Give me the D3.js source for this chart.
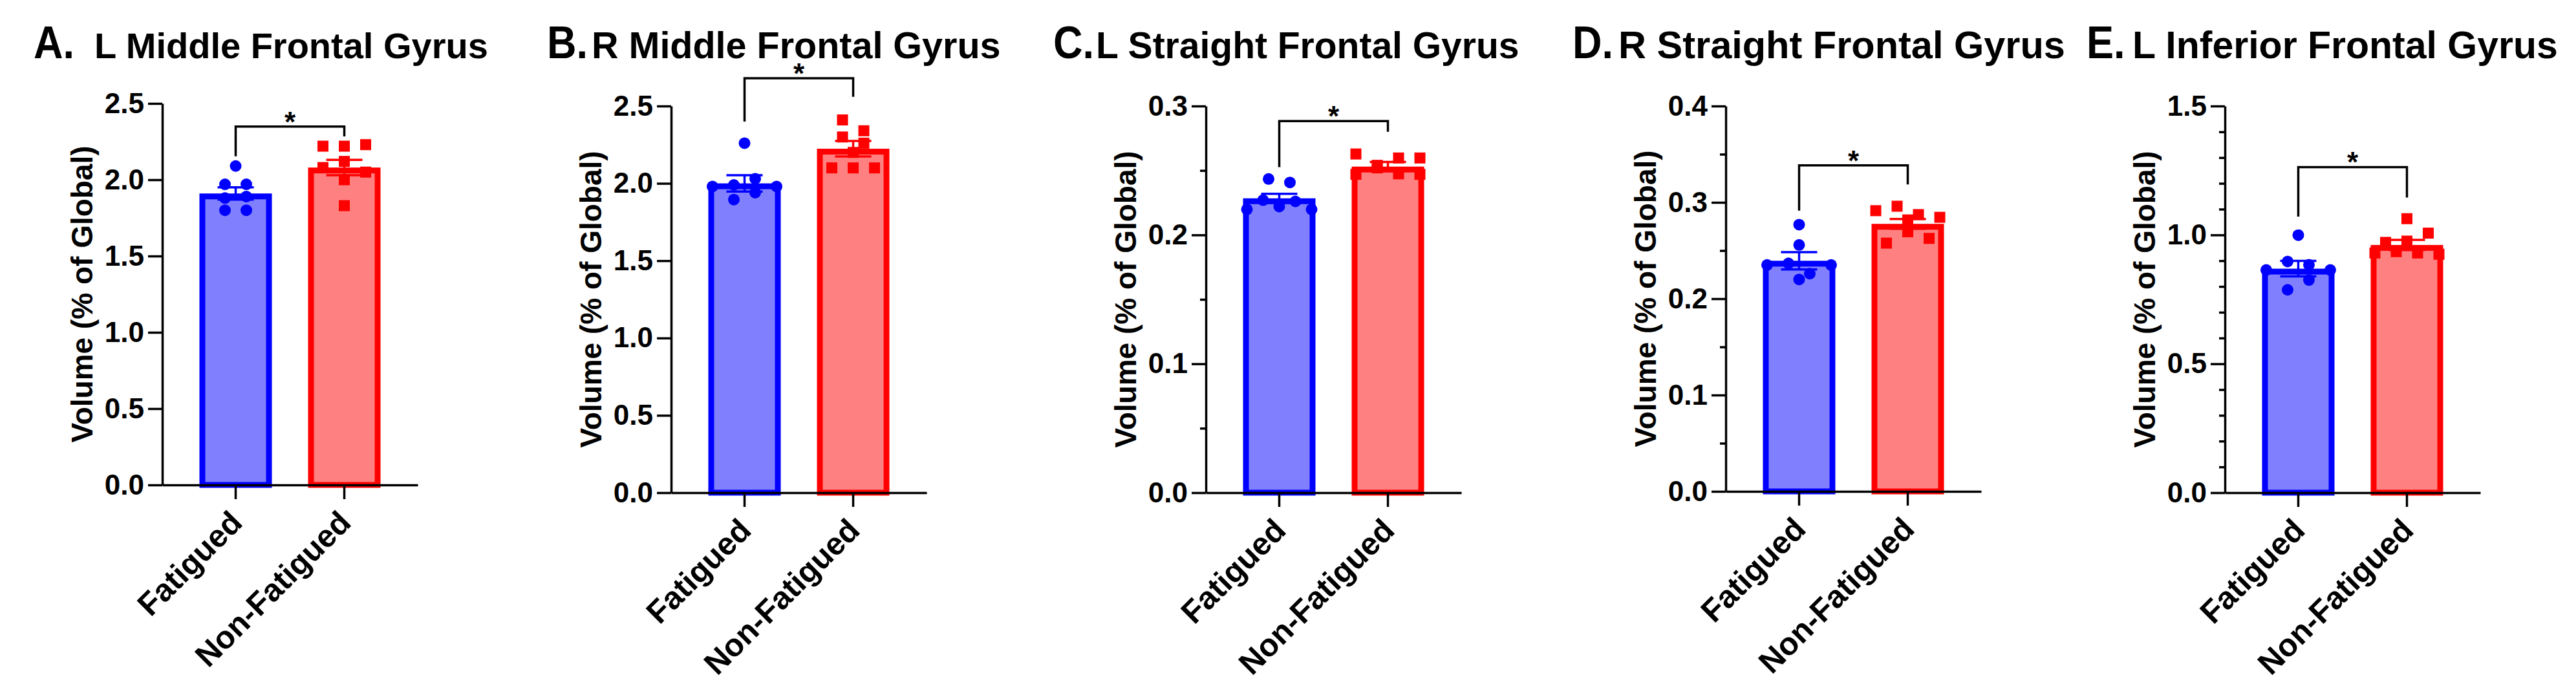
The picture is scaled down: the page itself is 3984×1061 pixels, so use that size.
<!DOCTYPE html>
<html>
<head>
<meta charset="utf-8">
<script src="https://cdn.jsdelivr.net/npm/d3@7"></script>
<style>
  body { margin: 0; background: #fff; }
  svg text { font-family: "Liberation Sans", Arial, sans-serif; font-weight: bold; fill: #000; }
</style>
</head>
<body>
<svg id="fig" width="3984" height="1061"></svg>
<script>
// ---- data ----
var groups = ["Fatigued", "Non-Fatigued"];
var letters = ["A.", "B.", "C.", "D.", "E."];
var regions = ["L Middle Frontal Gyrus", "R Middle Frontal Gyrus", "L Straight Frontal Gyrus",
               "R Straight Frontal Gyrus", "L Inferior Frontal Gyrus"];
var yLabel = "Volume (% of Global)";

var yMax = [2.5, 2.5, 0.3, 0.4, 1.5];
var yMajor = [0.5, 0.5, 0.1, 0.1, 0.5];
var yMinorCount = [1, 1, 2, 2, 5];   // sub-divisions per major step

var meanFatigued = [1.91, 2.00, 0.2284, 0.2394, 0.869];
var semFatigued = [0.04, 0.053, 0.0035, 0.009, 0.03];
var meanNonFatigued = [2.08, 2.224, 0.253, 0.2777, 0.961];
var semNonFatigued = [0.05, 0.05, 0.0036, 0.005, 0.02];

var fatA = [2.09, 1.97, 1.97, 1.88, 1.89, 1.80, 1.80];
var nonA = [2.22, 2.22, 2.23, 2.08, 2.12, 2.05, 2.00, 1.83];
var fatB = [2.26, 1.98, 1.99, 2.03, 1.98, 1.895, 1.94];
var nonB = [2.41, 2.34, 2.30, 2.26, 2.20, 2.10, 2.10, 2.10];
var fatC = [0.2434, 0.2407, 0.2198, 0.227, 0.222, 0.226, 0.2198];
var nonC = [0.2628, 0.254, 0.2597, 0.2597, 0.247, 0.252, 0.2474, 0.247];
var fatD = [0.2769, 0.2558, 0.235, 0.2367, 0.226, 0.235, 0.220];
var nonD = [0.2914, 0.296, 0.2873, 0.2845, 0.2818, 0.2577, 0.2695, 0.2626];
var fatE = [0.999, 0.864, 0.897, 0.884, 0.864, 0.787, 0.825];
var nonE = [1.063, 0.971, 0.976, 1.007, 0.93, 0.935, 0.93, 0.925];

// significance brackets (data units): top line, left leg end, right leg end
var bracketTop = [2.348, 2.68, 0.2883, 0.3384, 1.263];
var bracketLeft = [2.154, 2.40, 0.2526, 0.2914, 1.071];
var bracketRight = [2.284, 2.56, 0.280, 0.3187, 1.145];
var sigLabel = "*";

var fatiguedPoints = [fatA, fatB, fatC, fatD, fatE];
var nonFatiguedPoints = [nonA, nonB, nonC, nonD, nonE];

// ---- layout ----
var panelX = [251, 1038, 1865, 2669, 3441];
var panelTop = [160, 164, 164, 164, 164];
var panelBottom = [750, 762, 762, 760, 762];
var letterX = [52, 846, 1629, 2432, 3227];
var titleX = [146, 915, 1695, 2503, 3298];
var titleSize = [56, 57.5, 57, 59.5, 59];
var titleY = 90;
var axisLen = 395;
var lw = 3.5, barStroke = 9, capW = 56;

var blue = "#0000ff", blueFill = "#8080ff", red = "#ff0000", redFill = "#ff8080";

var svg = d3.select("#fig");

// spread points that sit in the same row, centred on the bar
function spreadPoints(vals, y, cx) {
  var rowH = 18;
  var order = vals.map(function (v, i) { return i; })
    .sort(function (a, b) { return vals[b] - vals[a]; });
  var out = [], i = 0;
  while (i < order.length) {
    var y0 = y(vals[order[i]]);
    var row = [];
    while (i < order.length && y(vals[order[i]]) - y0 <= rowH) { row.push(order[i]); i++; }
    row.sort(function (a, b) { return a - b; });
    var n = row.length;
    var step = n > 1 ? Math.min(33, 100 / (n - 1)) : 0;
    row.forEach(function (idx, k) {
      out.push({ v: vals[idx], x: cx + (k - (n - 1) / 2) * step });
    });
  }
  return out;
}

letters.forEach(function (letter, p) {
  var g = svg.append("g").attr("transform", "translate(" + panelX[p] + ",0)");

  var y = d3.scaleLinear().domain([0, yMax[p]]).range([panelBottom[p], panelTop[p]]);
  var x = d3.scaleBand().domain(groups).range([0, axisLen])
    .paddingInner(1 / 3).paddingOuter(0.342);

  // titles
  svg.append("text")
    .attr("transform", "translate(" + letterX[p] + "," + titleY + ") scale(0.9,1)")
    .attr("font-size", 70).text(letter);
  svg.append("text").attr("x", titleX[p]).attr("y", titleY)
    .attr("font-size", titleSize[p]).text(regions[p]);

  // bars
  var means = [meanFatigued[p], meanNonFatigued[p]];
  var sems = [semFatigued[p], semNonFatigued[p]];
  var strokes = [blue, red], fills = [blueFill, redFill];

  groups.forEach(function (grp, j) {
    g.append("rect")
      .attr("x", x(grp) + barStroke / 2)
      .attr("y", y(means[j]) + barStroke / 2)
      .attr("width", x.bandwidth() - barStroke)
      .attr("height", y(0) - y(means[j]) - barStroke / 2)
      .attr("fill", fills[j])
      .attr("stroke", strokes[j])
      .attr("stroke-width", barStroke);
  });

  // individual points
  var cxF = x(groups[0]) + x.bandwidth() / 2;
  var cxN = x(groups[1]) + x.bandwidth() / 2;
  g.selectAll("circle.pt").data(spreadPoints(fatiguedPoints[p], y, cxF))
    .enter().append("circle")
    .attr("class", "pt")
    .attr("cx", function (d) { return d.x; })
    .attr("cy", function (d) { return y(d.v); })
    .attr("r", 9)
    .attr("fill", blue);
  g.selectAll("rect.pt").data(spreadPoints(nonFatiguedPoints[p], y, cxN))
    .enter().append("rect")
    .attr("class", "pt")
    .attr("x", function (d) { return d.x - 8.5; })
    .attr("y", function (d) { return y(d.v) - 8.5; })
    .attr("width", 17).attr("height", 17)
    .attr("fill", red);

  // mean +/- SEM
  groups.forEach(function (grp, j) {
    var cx = x(grp) + x.bandwidth() / 2;
    var hi = y(means[j] + sems[j]), lo = y(means[j] - sems[j]);
    g.append("path")
      .attr("d", "M" + cx + "," + hi + "V" + lo +
                 "M" + (cx - capW / 2) + "," + hi + "H" + (cx + capW / 2) +
                 "M" + (cx - capW / 2) + "," + lo + "H" + (cx + capW / 2))
      .attr("fill", "none")
      .attr("stroke", strokes[j])
      .attr("stroke-width", lw);
  });

  // y axis (major + minor)
  var majors = d3.range(0, yMax[p] + yMajor[p] / 2, yMajor[p]);
  var yAxis = g.append("g")
    .call(d3.axisLeft(y).tickValues(majors).tickSize(22).tickSizeOuter(0)
      .tickPadding(6).tickFormat(d3.format(".1f")));
  if (yMinorCount[p] > 1) {
    var mstep = yMajor[p] / yMinorCount[p];
    var minors = d3.range(0, yMax[p], mstep).filter(function (v, i) { return i % yMinorCount[p] !== 0; });
    g.append("g")
      .call(d3.axisLeft(y).tickValues(minors).tickSize(9).tickFormat(""))
      .call(function (s) { s.select(".domain").remove(); });
  }
  yAxis.selectAll("text").attr("font-size", 44);

  // x axis
  g.append("g")
    .attr("transform", "translate(0," + y(0) + ")")
    .call(d3.axisBottom(x).tickSize(22).tickSizeOuter(0).tickFormat(""));

  g.selectAll(".domain, .tick line").attr("stroke", "#000").attr("stroke-width", lw);

  // rotated category labels
  groups.forEach(function (grp) {
    var lx = x(grp) + x.bandwidth() / 2 + 13, ly = y(0) + 61;
    g.append("text")
      .attr("transform", "translate(" + lx + "," + ly + ") rotate(-45)")
      .attr("text-anchor", "end")
      .attr("font-size", 49)
      .text(grp);
  });

  // y label
  g.append("text")
    .attr("transform", "translate(-108," + (panelTop[p] + panelBottom[p]) / 2 + ") rotate(-90)")
    .attr("text-anchor", "middle")
    .attr("font-size", 46)
    .text(yLabel);

  // significance bracket
  var by = y(bracketTop[p]);
  g.append("path")
    .attr("d", "M" + cxF + "," + y(bracketLeft[p]) + "V" + by + "H" + cxN + "V" + y(bracketRight[p]))
    .attr("fill", "none")
    .attr("stroke", "#000")
    .attr("stroke-width", lw);
  g.append("text")
    .attr("x", (cxF + cxN) / 2)
    .attr("y", by + 8)
    .attr("text-anchor", "middle")
    .attr("font-size", 44)
    .text(sigLabel);
});
</script>
</body>
</html>
